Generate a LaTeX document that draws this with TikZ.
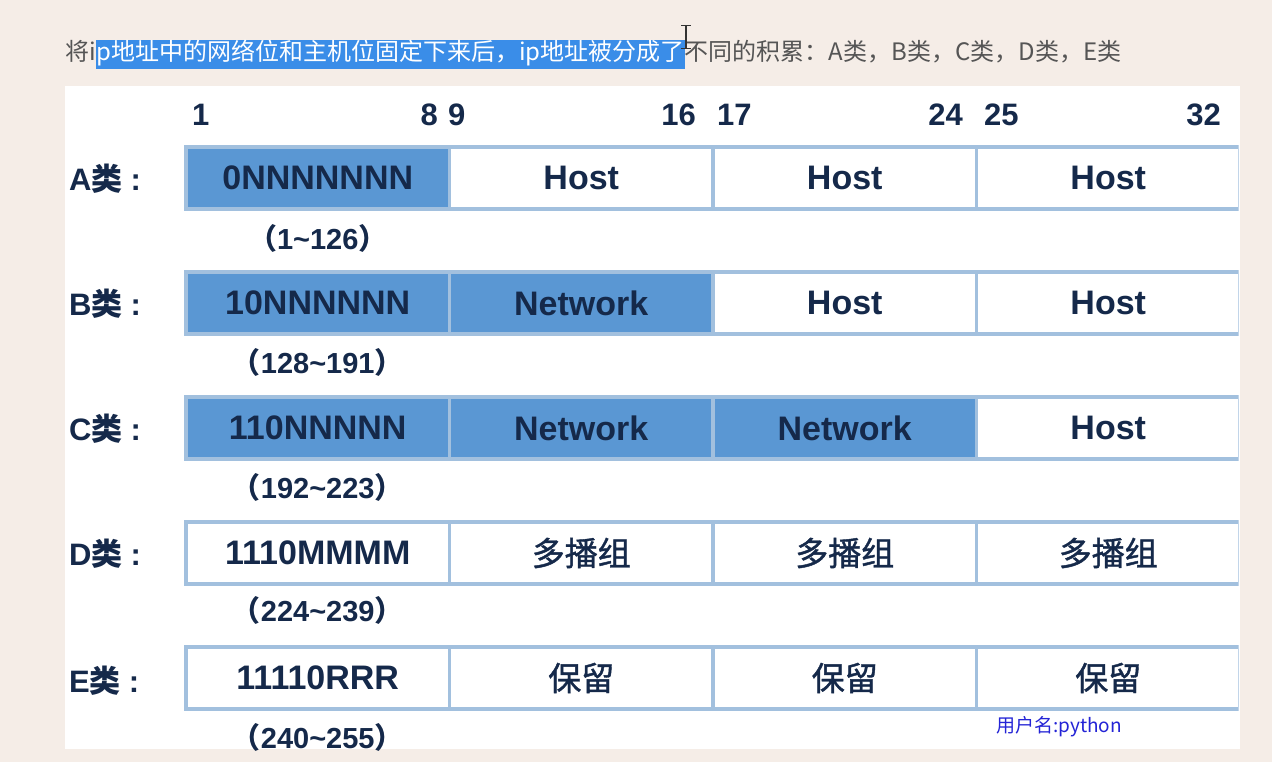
\documentclass[tikz,border=0pt]{standalone}
\usepackage{fontspec}
\setmainfont{Liberation Sans}
\newfontfamily\cjk{Noto Sans CJK SC}
\newfontfamily\cjkmed{Noto Sans CJK SC}[FakeBold=1.2]
\usepackage{tikz}
\usetikzlibrary{positioning}
\definecolor{pagebg}{HTML}{F5EDE7}
\definecolor{cellline}{HTML}{A2C0DE}
\definecolor{netfill}{HTML}{5A97D3}
\definecolor{navy}{HTML}{15294A}
\definecolor{selblue}{HTML}{3A8DE8}
\definecolor{captext}{HTML}{555555}
\definecolor{markblue}{HTML}{2424D6}
\newcommand\clsname[1]{{\bfseries #1}{\cjk\bfseries 类}\hspace{8pt}{\bfseries :}}
\newcommand\rangetxt[2]{{\cjk\bfseries （}#1\textasciitilde#2{\cjk\bfseries ）}}

\begin{document}
\begin{tikzpicture}[
    x=1pt, y=-1pt,
    field/.style={
        draw=cellline,
        line width=3.5pt,
        fill=white,
        minimum width=263.5pt,
        minimum height=62pt,
        inner sep=0pt,
        outer sep=0pt,
        text=navy,
        font=\fontsize{34}{40}\selectfont\bfseries
    },
    net/.style={field, fill=netfill},
    cjkfield/.style={field, font=\fontsize{33}{40}\selectfont\cjkmed},
    classlbl/.style={
        anchor=west,
        inner sep=0pt,
        text=navy,
        font=\fontsize{31}{36}\selectfont
    },
    rng/.style={
        inner sep=0pt,
        text=navy,
        font=\fontsize{29}{34}\selectfont\bfseries
    },
    bitno/.style={
        inner sep=0pt,
        text=navy,
        font=\fontsize{31}{36}\selectfont\bfseries
    },
    caption/.style={
        inner sep=0pt,
        text=captext,
        font=\fontsize{24}{28}\selectfont\cjk
    }
]
% Page and panel
\fill[pagebg] (0,0) rectangle (1272,762);
\fill[white] (65,86) rectangle (1240,749);
\useasboundingbox (0,0) rectangle (1272,762);

% Caption line with selected part
\node[caption, anchor=base west] at (65,61) (cap1) {将i};
\node[caption, base right=0pt of cap1, fill=selblue, text=white,
      text height=21pt, text depth=8pt] (cap2) {p地址中的网络位和主机位固定下来后，ip地址被分成了};
\node[caption, base right=0pt of cap2] (cap3) {不同的积累：A类，B类，C类，D类，E类};
% Text cursor
\draw[black!80, line width=1.3pt] (686,26) -- (686,48);
\draw[black!80, line width=1pt] (681,25.5) -- (691,25.5);
\draw[black!80, line width=1pt] (681,48.5) -- (691,48.5);

% Bit positions
\foreach \b/\x in {1/192, 9/448, 17/717, 25/984} {
    \node[bitno, anchor=west] at (\x,115) (bit\b) {\b};
}
\foreach \b/\x in {8/438, 16/696, 24/963, 32/1221} {
    \node[bitno, anchor=east] at (\x,115) (bit\b) {\b};
}

\begin{scope}
\clip (0,0) rectangle (1238.5,762);
% Class A
\node[net] at (317.75,178) (a1) {0NNNNNNN};
\node[field, right=0pt of a1] (a2) {Host};
\node[field, right=0pt of a2] (a3) {Host};
\node[field, right=0pt of a3] (a4) {Host};
% Class B
\node[net] at (317.75,303) (b1) {10NNNNNN};
\node[net, right=0pt of b1] (b2) {Network};
\node[field, right=0pt of b2] (b3) {Host};
\node[field, right=0pt of b3] (b4) {Host};
% Class C
\node[net] at (317.75,428) (c1) {110NNNNN};
\node[net, right=0pt of c1] (c2) {Network};
\node[net, right=0pt of c2] (c3) {Network};
\node[field, right=0pt of c3] (c4) {Host};
% Class D
\node[field] at (317.75,553) (d1) {1110MMMM};
\node[cjkfield, right=0pt of d1] (d2) {多播组};
\node[cjkfield, right=0pt of d2] (d3) {多播组};
\node[cjkfield, right=0pt of d3] (d4) {多播组};
% Class E
\node[field] at (317.75,678) (e1) {11110RRR};
\node[cjkfield, right=0pt of e1] (e2) {保留};
\node[cjkfield, right=0pt of e2] (e3) {保留};
\node[cjkfield, right=0pt of e3] (e4) {保留};
\end{scope}

% Class names
\node[classlbl] at (69,179) (la) {\clsname{A}};
\node[classlbl] at (69,304) (lb) {\clsname{B}};
\node[classlbl] at (69,429) (lc) {\clsname{C}};
\node[classlbl] at (69,554) (ld) {\clsname{D}};
\node[classlbl] at (69,681) (le) {\clsname{E}};

% First octet ranges
\node[rng] at (317.75,238) (ra) {\rangetxt{1}{126}};
\node[rng] at (317.75,362) (rb) {\rangetxt{128}{191}};
\node[rng] at (317.75,487) (rc) {\rangetxt{192}{223}};
\node[rng] at (317.75,610) (rd) {\rangetxt{224}{239}};
\node[rng] at (317.75,737) (re) {\rangetxt{240}{255}};

% User mark
\node[anchor=west, inner sep=0pt, text=markblue, font=\fontsize{19}{22}\selectfont\cjk]
    at (996,727) (mark) {用户名:python};
\end{tikzpicture}
\end{document}
